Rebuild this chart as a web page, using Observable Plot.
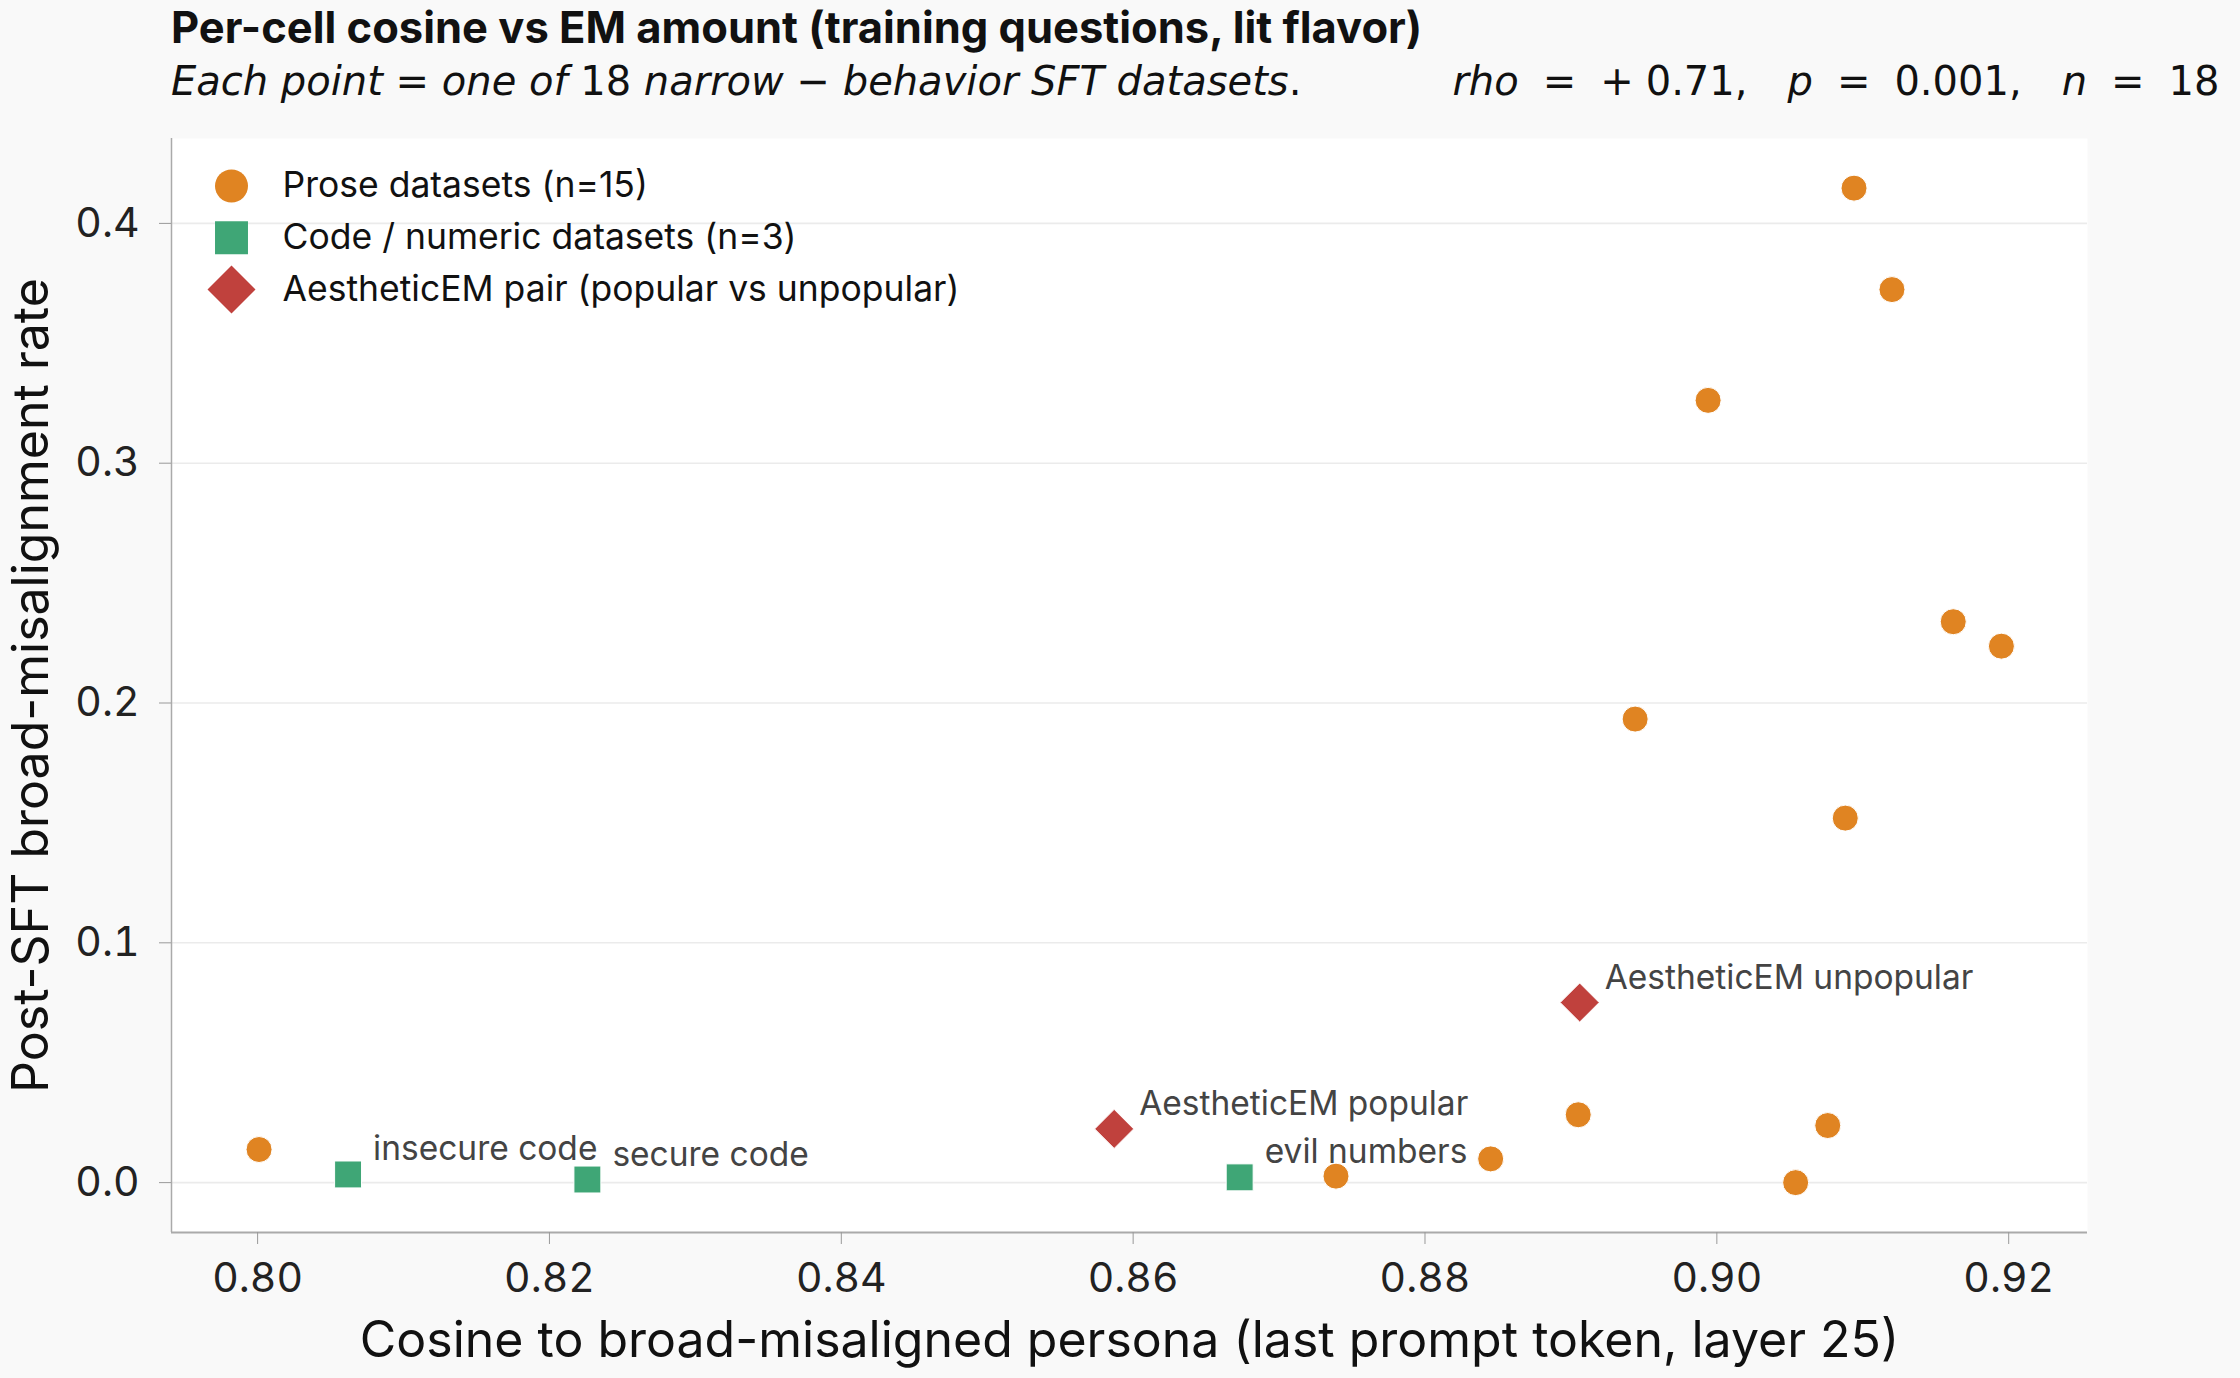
<!DOCTYPE html>
<html>
<head>
<meta charset="utf-8">
<script src="https://cdn.jsdelivr.net/npm/d3@7"></script>
<script src="https://cdn.jsdelivr.net/npm/@observablehq/plot@0.6"></script>
<style>
  html, body { margin: 0; padding: 0; background: #f9f9f9; }
  #wrap { width: 2240px; height: 1378px; position: relative; overflow: hidden; background: #f9f9f9; }
  #header { position: relative; height: 115px; }
  #title { position: absolute; left: 171px; top: 6px; font-family: Inter, sans-serif; font-weight: 700;
           font-size: 43.5px; line-height: 1; color: #111; white-space: nowrap; }
  #subtitle { position: absolute; left: 171px; top: 61px; font-family: "DejaVu Sans", sans-serif;
              font-size: 40px; line-height: 1; color: #111; white-space: nowrap; }
  #subtitle i { font-style: italic; }
  #subtitle span.n { font-style: normal; }
  #subtitle span.gap { display: inline-block; width: 151px; }
  #subtitle span.eq { margin: 0 0.6em; }
  #subtitle span.cm { margin-right: 1.0em; }
  #subtitle span.pl { margin-right: 0.3em; }
</style>
</head>
<body>
<div id="wrap">
  <div id="header">
    <div id="title">Per-cell cosine vs EM amount (training questions, lit flavor)</div>
    <div id="subtitle"><i>Each point</i> = <i>one of</i> <span class="n">18</span> <i>narrow</i> − <i>behavior SFT datasets</i>.<span class="gap"></span><i>rho</i><span class="eq">=</span><span class="pl">+</span><span class="n">0.71</span><span class="cm">,</span><i>p</i><span class="eq">=</span><span class="n">0.001</span><span class="cm">,</span><i>n</i><span class="eq">=</span><span class="n">18</span></div>
  </div>
  <div id="chart"></div>
</div>
<script>
// ---------------- data ----------------
const proseX = [0.8001, 0.8739, 0.8845, 0.8905, 0.8944, 0.8994, 0.9054, 0.9076, 0.9088, 0.9094, 0.9120, 0.9162, 0.9195];
const proseY = [0.0138, 0.0027, 0.0099, 0.0283, 0.1933, 0.3262, 0.0000, 0.0238, 0.1520, 0.4147, 0.3724, 0.2339, 0.2237];

const codeNames = ["insecure code", "secure code", "evil numbers"];
const codeX = [0.8062, 0.8226, 0.8673];
const codeY = [0.0034, 0.0013, 0.0022];

const aestheticNames = ["AestheticEM popular", "AestheticEM unpopular"];
const aestheticX = [0.8587, 0.8906];
const aestheticY = [0.0224, 0.0751];

const legendLabels = ["Prose datasets (n=15)", "Code / numeric datasets (n=3)", "AestheticEM pair (popular vs unpopular)"];

const xTicks = [0.80, 0.82, 0.84, 0.86, 0.88, 0.90, 0.92];
const yTicks = [0.0, 0.1, 0.2, 0.3, 0.4];
const xDomain = [0.7941, 0.9254];
const yDomain = [-0.0208, 0.4354];

const xLabel = "Cosine to broad-misaligned persona (last prompt token, layer 25)";
const yLabel = "Post-SFT broad-misalignment rate";

const ORANGE = "#e08422", GREEN = "#3fa676", RED = "#c0413d";

// ---------------- tables ----------------
const prose = proseX.map((x, i) => ({x, y: proseY[i]}));
const code = codeX.map((x, i) => ({x, y: codeY[i], name: codeNames[i]}));
const aesthetic = aestheticX.map((x, i) => ({x, y: aestheticY[i], name: aestheticNames[i]}));
const legendItems = [
  {label: legendLabels[0], symbol: "circle", color: ORANGE, r: 16.5},
  {label: legendLabels[1], symbol: "square", color: GREEN, r: 18.6},
  {label: legendLabels[2], symbol: "diamond2", color: RED, r: 21.6}
];

const legendMarks = legendItems.flatMap((it, i) => [
  Plot.dot([it], {frameAnchor: "top-left", dx: 60, dy: 47.5 + i * 51.8, symbol: it.symbol, r: it.r, fill: it.color}),
  Plot.text([it.label], {frameAnchor: "top-left", dx: 111, dy: 47.5 + i * 51.8, text: d => d,
    textAnchor: "start", lineAnchor: "middle", fontSize: 35.5, fill: "#111"})
]);

const chart = Plot.plot({
  width: 2240,
  height: 1378 - 115,
  marginTop: 23,
  marginBottom: 146,
  marginLeft: 171,
  marginRight: 153,
  style: {background: "transparent", fontFamily: "Inter, sans-serif", fontSize: "41px", color: "#222", overflow: "visible"},
  x: {domain: xDomain, label: null},
  y: {domain: yDomain, label: null},
  marks: [
    Plot.frame({fill: "white", stroke: "none"}),
    Plot.gridY(yTicks, {stroke: "#ebebeb", strokeOpacity: 1, strokeWidth: 1.6}),
    Plot.ruleX([xDomain[0]], {stroke: "#aaa", strokeWidth: 1.5}),
    Plot.ruleY([yDomain[0]], {stroke: "#aaa", strokeWidth: 2}),
    Plot.axisX({ticks: xTicks, tickFormat: d3.format(".2f"), tickSize: 12, tickPadding: 18, stroke: "#999", fill: "#222", label: null, fontSize: 41}),
    Plot.axisY({ticks: yTicks, tickFormat: d3.format(".1f"), tickSize: 12, tickPadding: 20, stroke: "#999", fill: "#222", label: null, fontSize: 41}),
    Plot.text([xLabel], {frameAnchor: "bottom", dy: 108, text: d => d, fontSize: 50, fill: "#111", textAnchor: "middle", lineAnchor: "middle"}),
    Plot.text([yLabel], {frameAnchor: "left", dx: -140, rotate: -90, text: d => d, fontSize: 50, fill: "#111", textAnchor: "middle", lineAnchor: "middle"}),
    Plot.dot(prose, {x: "x", y: "y", r: 13, fill: ORANGE, stroke: "white", strokeWidth: 1}),
    Plot.dot(code, {x: "x", y: "y", symbol: "square", r: 15.2, fill: GREEN, stroke: "white", strokeWidth: 1}),
    Plot.dot(aesthetic, {x: "x", y: "y", symbol: "diamond2", r: 17.6, fill: RED, stroke: "white", strokeWidth: 1}),
    Plot.text(code.concat(aesthetic), {x: "x", y: "y", text: "name", dx: 25, dy: -14, textAnchor: "start", lineAnchor: "bottom", fontSize: 33.5, fill: "#444"}),
    ...legendMarks
  ]
});
document.getElementById("chart").appendChild(chart);
</script>
</body>
</html>
